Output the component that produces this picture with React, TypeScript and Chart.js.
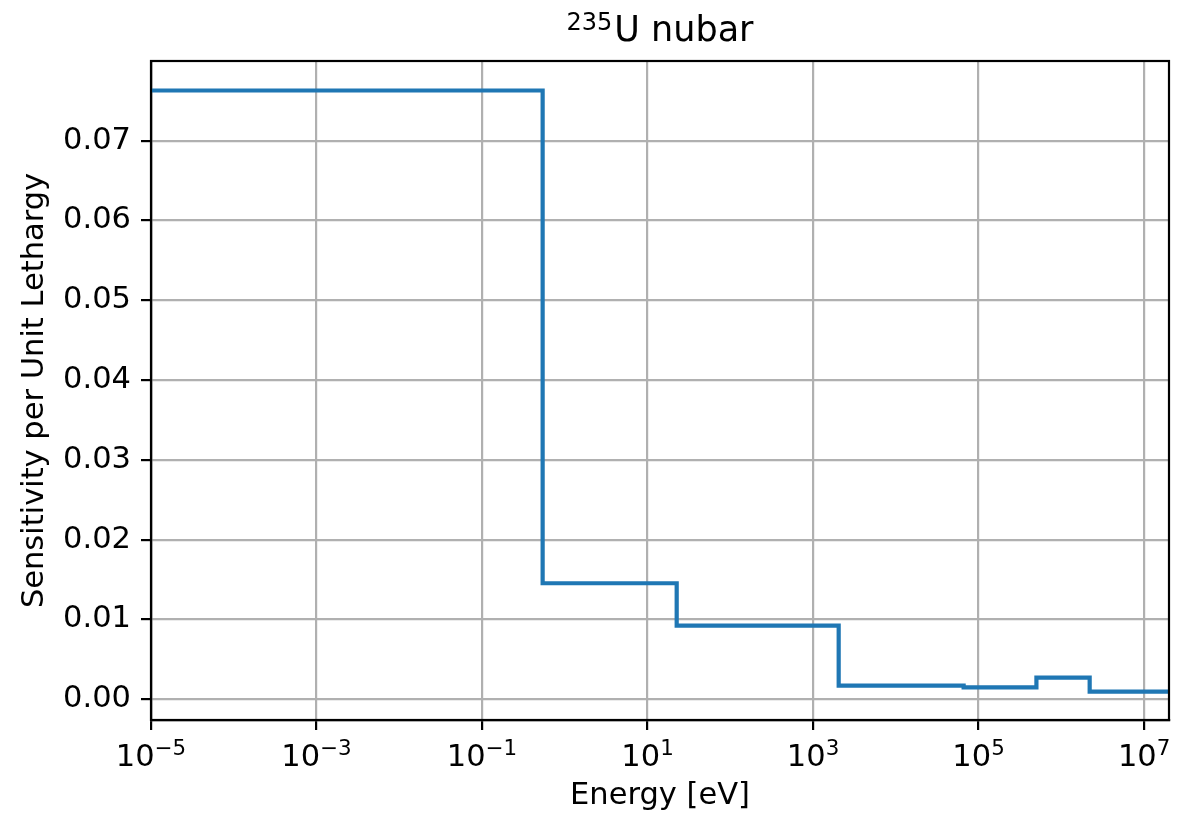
import React, { useEffect, useRef } from "react";
import { Chart, registerables } from "chart.js";

Chart.register(...registerables);

const energyEdges = [1e-5, 0.54, 22.5, 2.04e3, 6.6e4, 5.0e5, 2.2e6, 2e7];
const sensitivities = [0.0763, 0.01454, 0.00923, 0.00171, 0.0015, 0.0027, 0.00095];
const xTickValues = [1e-5, 1e-3, 1e-1, 1e1, 1e3, 1e5, 1e7];
const yTickValues = [0, 0.01, 0.02, 0.03, 0.04, 0.05, 0.06, 0.07];
const titleSup = "235";
const titleMain = "U nubar";
const xLabel = "Energy [eV]";
const yLabel = "Sensitivity per Unit Lethargy";

const FONT = "'DejaVu Sans', sans-serif";
const W = 1183;
const H = 819;
const TICK_SIZE = 30.5;
const SUP_SIZE = 21.4;
const TITLE_SIZE = 35;
const TITLE_SUP_SIZE = 24;

const expText = (v: number) => {
  const e = Math.round(Math.log10(v));
  return (e < 0 ? "\u2212" : "") + String(Math.abs(e));
};

const decorPlugin = {
  id: "decor",
  afterDraw(chart: any) {
    const { ctx, chartArea } = chart;
    ctx.save();
    // frame (all four spines)
    ctx.strokeStyle = "#000";
    ctx.lineWidth = 2.2;
    ctx.strokeRect(chartArea.left, chartArea.top, chartArea.right - chartArea.left, chartArea.bottom - chartArea.top);

    // title with superscript
    ctx.fillStyle = "#000";
    ctx.textBaseline = "alphabetic";
    ctx.textAlign = "left";
    ctx.font = `${TITLE_SUP_SIZE}px ${FONT}`;
    const wSup = ctx.measureText(titleSup).width;
    ctx.font = `${TITLE_SIZE}px ${FONT}`;
    const wMain = ctx.measureText(titleMain).width;
    const cx = (chartArea.left + chartArea.right) / 2;
    const x0 = cx - (wSup + wMain + 2) / 2;
    ctx.font = `${TITLE_SUP_SIZE}px ${FONT}`;
    ctx.fillText(titleSup, x0, 30);
    ctx.font = `${TITLE_SIZE}px ${FONT}`;
    ctx.fillText(titleMain, x0 + wSup + 2, 41);

    // x tick labels: 10^n
    const xs = chart.scales.x;
    const base = chartArea.bottom + 46;
    xs.ticks.forEach((t: any) => {
      const px = xs.getPixelForValue(t.value);
      const ex = expText(t.value);
      ctx.font = `${TICK_SIZE}px ${FONT}`;
      const w10 = ctx.measureText("10").width;
      ctx.font = `${SUP_SIZE}px ${FONT}`;
      const wEx = ctx.measureText(ex).width;
      const sx = px - (w10 + wEx) / 2;
      ctx.font = `${TICK_SIZE}px ${FONT}`;
      ctx.fillText("10", sx, base);
      ctx.font = `${SUP_SIZE}px ${FONT}`;
      ctx.fillText(ex, sx + w10, base - 11);
    });
    ctx.restore();
  },
};

export default function App() {
  const ref = useRef<HTMLCanvasElement | null>(null);
  useEffect(() => {
    if (!ref.current) return;
    const points = energyEdges.map((x, i) => ({
      x,
      y: sensitivities[Math.min(i, sensitivities.length - 1)],
    }));
    const chart = new Chart(ref.current, {
      type: "line",
      data: {
        datasets: [
          {
            data: points,
            borderColor: "#1f77b4",
            borderWidth: 4.2,
            pointRadius: 0,
            stepped: "before",
            fill: false,
            borderJoinStyle: "miter",
          } as any,
        ],
      },
      plugins: [decorPlugin],
      options: {
        responsive: false,
        animation: false,
        layout: { padding: { left: 0, right: 14, top: 61, bottom: 0 } },
        plugins: {
          legend: { display: false },
          tooltip: { enabled: false },
          title: { display: false },
        },
        scales: {
          x: {
            type: "logarithmic",
            min: 1e-5,
            max: 2e7,
            afterBuildTicks: (scale: any) => {
              scale.ticks = xTickValues.map((v) => ({ value: v }));
            },
            afterFit: (scale: any) => {
              scale.height = H - 720;
            },
            ticks: {
              display: false,
              autoSkip: false,
            },
            grid: {
              color: "#b0b0b0",
              lineWidth: 2.2,
              tickColor: "#000",
              tickLength: 10,
              tickWidth: 2.2,
            },
            border: { color: "#000", width: 2.2 },
            title: {
              display: true,
              text: xLabel,
              color: "#000",
              font: { family: FONT, size: TICK_SIZE },
              padding: { top: 0, bottom: 5 },
            },
          },
          y: {
            type: "linear",
            min: -0.0026,
            max: 0.0800,
            afterBuildTicks: (scale: any) => {
              scale.ticks = yTickValues.map((v) => ({ value: v }));
            },
            afterFit: (scale: any) => {
              scale.width = 151;
            },
            ticks: {
              color: "#000",
              font: { family: FONT, size: TICK_SIZE },
              padding: 10,
              callback: (v: any) => Number(v).toFixed(2),
            },
            grid: {
              color: "#b0b0b0",
              lineWidth: 2.2,
              tickColor: "#000",
              tickLength: 10,
              tickWidth: 2.2,
            },
            border: { color: "#000", width: 2.2 },
            title: {
              display: true,
              text: yLabel,
              color: "#000",
              font: { family: FONT, size: TICK_SIZE },
              padding: { top: 17, bottom: 0 },
            },
          },
        },
      } as any,
    });
    return () => chart.destroy();
  }, []);
  return (
    <div style={{ position: "absolute", left: 0, top: 0, width: W, height: H, background: "#fff" }}>
      <canvas ref={ref} width={W} height={H} style={{ display: "block" }} />
    </div>
  );
}
